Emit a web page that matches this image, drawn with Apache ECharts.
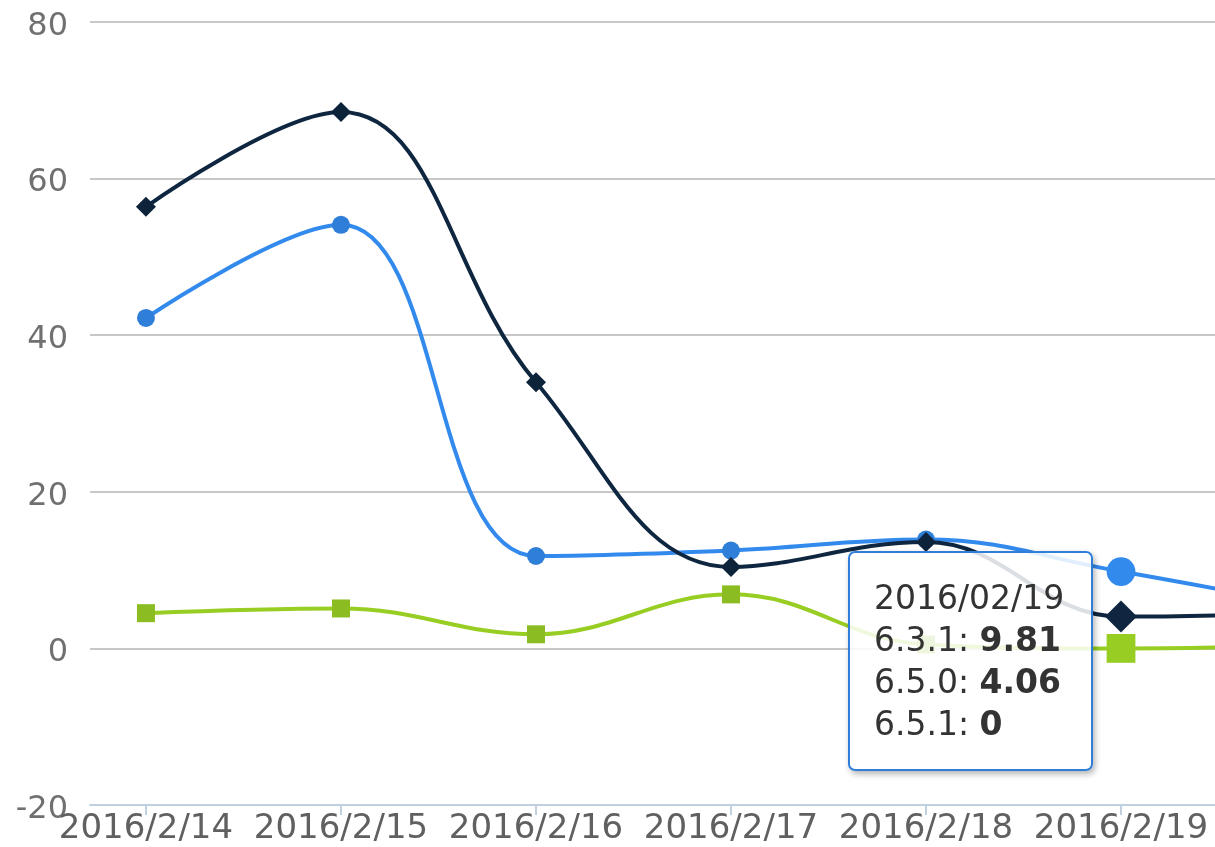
<!DOCTYPE html>
<html>
<head>
<meta charset="utf-8">
<script src="https://cdn.jsdelivr.net/npm/echarts@6/dist/echarts.min.js"></script>
<style>
  html, body { margin: 0; padding: 0; background: #fff; }
  #main { width: 1215px; height: 847px; }
</style>
</head>
<body>
<div id="main"></div>
<script>
// dates on the x axis (the last one lies past the right edge)
const categories = ["2016/2/14", "2016/2/15", "2016/2/16", "2016/2/17", "2016/2/18", "2016/2/19", "2016/2/20"];
const yTicks = [-20, 0, 20, 40, 60, 80];

const v631 = [42.2, 54.1, 11.8, 12.5, 13.9, 9.81, 5.2];
const v650 = [56.4, 68.5, 34.0, 10.4, 13.6, 4.06, 4.6];
const v651 = [4.5, 5.1, 1.8, 6.9, 0.5, 0, 0.4];

const myChart = echarts.init(document.getElementById("main"));

const font = "DejaVu Sans";
const visibleIdx = categories.map((c, i) => i).filter((i) => i <= 5);
const toPairs = (arr) => arr.map((v, i) => [i, v]);

// tooltip date as 2016/02/19
const padDate = (s) =>
  s.split("/").map((p, i) => (i > 0 && p.length < 2 ? "0" + p : p)).join("/");

const makeSeries = (name, data, color, symbol, size) => ({
  name: name,
  type: "line",
  data: toPairs(data),
  smooth: 0.4,
  symbol: symbol,
  symbolSize: size,
  showAllSymbol: true,
  lineStyle: { color: color, width: 4 },
  itemStyle: { color: color },
  emphasis: { scale: 1.6, lineStyle: { width: 4 } },
});

const option = {
  animation: false,
  grid: { left: 90, right: 0, top: 22, bottom: 42, containLabel: false },
  tooltip: {
    trigger: "axis",
    triggerOn: "none",
    alwaysShowContent: true,
    axisPointer: { type: "none" },
    backgroundColor: "rgba(255,255,255,0.85)",
    borderColor: "#2f7ed8",
    borderWidth: 2,
    padding: [24, 24],
    textStyle: { fontFamily: font, fontSize: 33, color: "#333" },
    extraCssText:
      "border-radius:7px;box-shadow:2px 3px 6px rgba(0,0,0,0.3);width:193px;line-height:42px;",
    position: () => [848, 551],
    formatter: (params) => {
      let html = padDate(categories[params[0].dataIndex]);
      params.forEach((p) => {
        html += "<br/>" + p.seriesName + ": <b>" + p.value[1] + "</b>";
      });
      return html;
    },
  },
  xAxis: {
    type: "value",
    min: -0.287,
    max: 5.482,
    splitLine: { show: false },
    axisLine: { show: true, onZero: false, lineStyle: { color: "#c0d0e0", width: 2 } },
    axisTick: {
      show: true,
      customValues: visibleIdx,
      length: 10,
      lineStyle: { color: "#c0d0e0", width: 2 },
    },
    axisLabel: {
      customValues: visibleIdx,
      formatter: (v) => categories[v],
      color: "#606060",
      fontFamily: font,
      fontSize: 34,
      margin: 7,
    },
  },
  yAxis: {
    type: "value",
    min: yTicks[0],
    max: yTicks[yTicks.length - 1],
    interval: 20,
    axisLine: { show: false },
    axisTick: { show: false },
    splitLine: { lineStyle: { color: "#c8c8c8", width: 2 } },
    axisLabel: {
      margin: 22,
      formatter: (v) => "{t|" + v + "}",
      rich: {
        t: {
          color: "#707070",
          fontFamily: font,
          fontSize: 32,
          padding: [9, 0, 0, 0],
        },
      },
    },
  },
  series: [
    makeSeries("6.3.1", v631, "#2f7ed8", "circle", 18),
    makeSeries("6.5.0", v650, "#0d233a", "diamond", 20),
    makeSeries("6.5.1", v651, "#8bbc21", "rect", 18),
  ],
};

option && myChart.setOption(option);
myChart.dispatchAction({ type: "showTip", seriesIndex: 0, dataIndex: 5 });
</script>
</body>
</html>
